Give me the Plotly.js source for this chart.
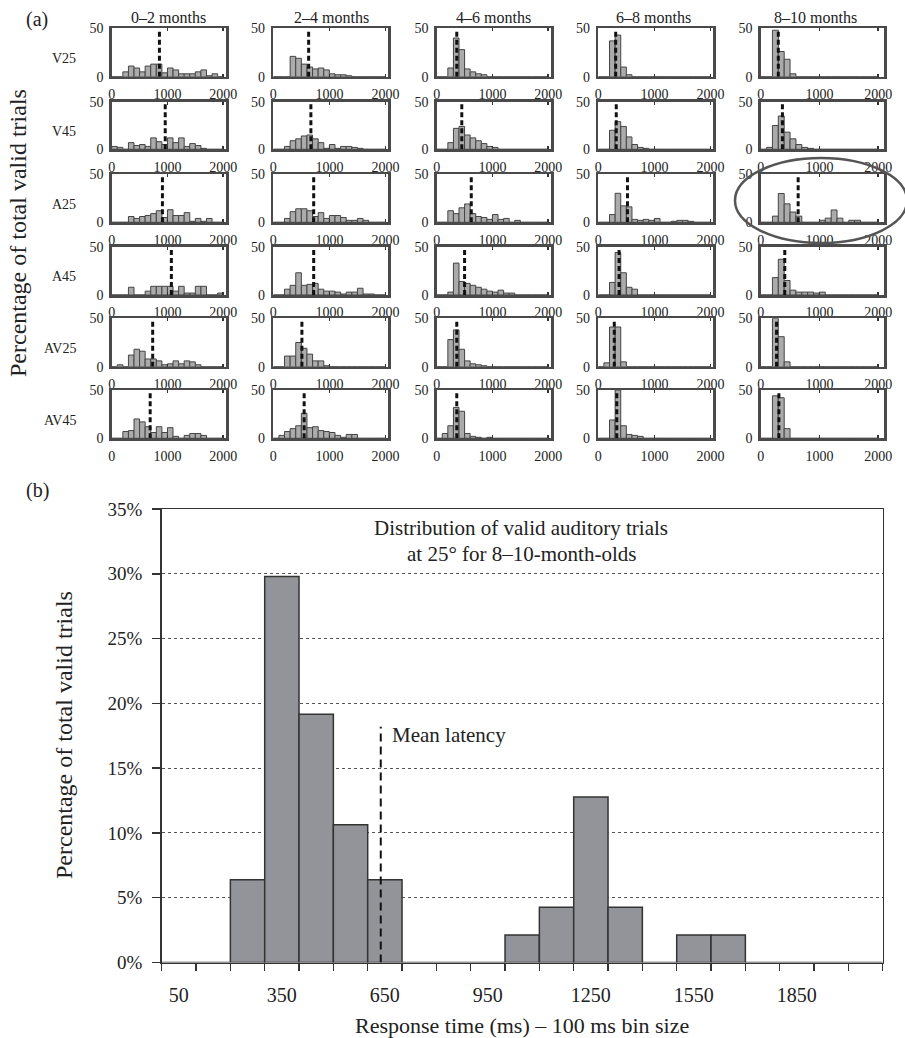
<!DOCTYPE html>
<html><head><meta charset="utf-8">
<script src="https://cdn.plot.ly/plotly-3.0.1.min.js"></script>
<style>html,body{margin:0;padding:0;background:#fff}#chart{width:905px;height:1038px}</style>
</head><body><div id="chart"></div>
<script>
// ---------- DATA ----------
const ageGroups = ['0–2 months','2–4 months','4–6 months','6–8 months','8–10 months'];
const conditions = ['V25','V45','A25','A45','AV25','AV45'];
const smallBinCenters = [50,150,250,350,450,550,650,750,850,950,1050,1150,1250,1350,1450,1550,1650,1750,1850,1950];
const smallTicks = [0,1000,2000];

// percentage of valid trials per 100 ms bin (panel a), one array per age group
const V25_m0_2  = [0,0,5,11,9,5,11,13,13,4,9,7,3,3,3,5,7,1,3,0];
const V25_m2_4  = [0,0,0,21,19,13,10,8,9,7,3,2,2,1,0,0,0,0,0,0];
const V25_m4_6  = [0,0,9,40,28,8,5,3,2,0,0,0,0,0,0,0,0,0,0,0];
const V25_m6_8  = [0,0,37,43,10,2,0,0,0,0,0,0,0,0,0,0,0,0,0,0];
const V25_m8_10 = [0,0,48,26,18,3,0,0,0,0,0,0,0,0,0,0,0,0,0,0];

const V45_m0_2  = [3,2,0,7,4,5,3,12,8,5,12,7,12,3,6,4,1,0,0,0];
const V45_m2_4  = [0,0,3,9,11,14,15,11,7,1,5,1,3,3,2,1,0,0,0,0];
const V45_m4_6  = [0,0,7,22,24,15,12,9,6,3,2,0,0,0,0,0,0,0,0,0];
const V45_m6_8  = [0,0,20,29,24,13,5,2,1,0,0,0,0,0,0,0,0,0,0,0];
const V45_m8_10 = [0,2,25,35,18,11,5,2,1,0,0,0,0,0,0,0,0,0,0,0];

const A25_m0_2  = [0,0,0,6,4,6,7,9,12,5,13,7,7,10,1,4,1,4,0,0];
const A25_m2_4  = [0,0,4,11,14,14,12,6,10,4,7,7,5,2,2,4,2,0,0,0];
const A25_m4_6  = [0,0,12,9,15,19,9,6,5,3,8,3,4,0,2,0,0,0,0,0];
const A25_m6_8  = [0,0,8,30,17,16,3,2,3,2,4,0,0,1,2,2,1,0,0,0];
const A25_m8_10 = [0,0,6.4,29.8,19.1,10.6,6.4,0,0,0,2.1,4.3,12.8,4.3,0,2.1,2.1,0,0,0];

const A45_m0_2  = [0,0,0,8,0,0,4,9,9,9,9,4,9,2,2,9,9,0,0,2];
const A45_m2_4  = [0,0,6,10,23,10,11,12,6,4,4,3,1,3,3,7,1,1,0,0];
const A45_m4_6  = [0,0,3,33,14,12,10,8,6,4,3,5,2,2,0,0,0,0,0,0];
const A45_m6_8  = [0,0,13,44,23,8,6,0,0,0,0,0,0,0,0,0,0,0,0,0];
const A45_m8_10 = [0,0,18,37,15,5,3,3,3,2,3,0,0,0,0,0,0,0,0,0];

const AV25_m0_2  = [0,2,0,12,18,16,8,8,6,2,3,6,3,6,5,2,0,0,0,0];
const AV25_m2_4  = [0,0,11,11,25,19,13,6,6,1,0,0,0,0,0,0,0,0,0,0];
const AV25_m4_6  = [0,0,28,38,18,6,3,2,1,0,0,0,0,0,0,0,0,0,0,0];
const AV25_m6_8  = [0,4,41,41,5,0,0,0,0,0,0,0,0,0,0,0,0,0,0,0];
const AV25_m8_10 = [0,0,50,31,5,0,0,0,0,0,0,0,0,0,0,0,0,0,0,0];

const AV45_m0_2  = [0,0,7,8,20,17,12,6,12,6,11,2,0,3,5,5,3,0,0,0];
const AV45_m2_4  = [0,3,7,10,13,26,11,12,8,7,6,3,1,4,4,0,0,0,0,0];
const AV45_m4_6  = [0,5,13,32,28,5,2,1,0,1,0,0,0,0,0,0,0,0,0,0];
const AV45_m6_8  = [0,0,19,50,13,4,3,2,0,0,0,0,0,0,0,0,0,0,0,0];
const AV45_m8_10 = [0,0,44,42,10,0,0,0,0,0,0,0,0,0,0,0,0,0,0,0];

// mean latency (ms) per age group
const meanV25  = [856, 630, 360, 310, 300];
const meanV45  = [960, 670, 450, 320, 370];
const meanA25  = [910, 720, 620, 520, 638];
const meanA45  = [1070, 720, 500, 370, 410];
const meanAV25 = [735, 510, 360, 285, 270];
const meanAV45 = [690, 550, 360, 330, 310];

// panel (b): auditory 25 deg, 8-10 months
const bBinCenters = [50,150,250,350,450,550,650,750,850,950,1050,1150,1250,1350,1450,1550,1650,1750,1850,1950,2050];
const bPercent    = [0,0,6.38,29.79,19.15,10.64,6.38,0,0,0,2.13,4.26,12.77,4.26,0,2.13,2.13,0,0,0,0];
const bTickLabels = [50,350,650,950,1250,1550,1850];
const bMeanLatency = 638;
const bMeanLineTop = 18.2;

// ---------- TABLES BUILT FROM DATA ----------
const hist = {
  V25: [V25_m0_2,V25_m2_4,V25_m4_6,V25_m6_8,V25_m8_10],
  V45: [V45_m0_2,V45_m2_4,V45_m4_6,V45_m6_8,V45_m8_10],
  A25: [A25_m0_2,A25_m2_4,A25_m4_6,A25_m6_8,A25_m8_10],
  A45: [A45_m0_2,A45_m2_4,A45_m4_6,A45_m6_8,A45_m8_10],
  AV25:[AV25_m0_2,AV25_m2_4,AV25_m4_6,AV25_m6_8,AV25_m8_10],
  AV45:[AV45_m0_2,AV45_m2_4,AV45_m4_6,AV45_m6_8,AV45_m8_10]
};
const means = {V25:meanV25,V45:meanV45,A25:meanA25,A45:meanA45,AV25:meanAV25,AV45:meanAV45};

// ---------- LAYOUT GEOMETRY (pixels) ----------
const W = 905, H = 1038;
const FONT = 'Liberation Serif, Times New Roman, serif';
const colX = [[111.7,226],[273.3,388.3],[436.7,551],[598.3,713.3],[760.7,884]];
const colRange = [2050,2050,2050,2050,2100];
const colTitleX = [168,331,493,653,815];
const rowY = [[28.3,76.7],[101.7,149.3],[174,222.3],[246.7,295],[318.3,366.7],[390,438.3]];
const px = v => v / W;
const py = v => 1 - v / H;

const traces = [];
const layout = {
  width: W, height: H,
  margin: {l:0, r:0, t:0, b:0},
  paper_bgcolor: '#fff', plot_bgcolor: '#fff',
  showlegend: false, bargap: 0,
  font: {family: FONT, color: '#222'},
  annotations: [], shapes: []
};

let k = 0;
conditions.forEach((cond, r) => {
  ageGroups.forEach((age, c) => {
    k++;
    const xa = k === 1 ? 'x' : 'x' + k;
    const ya = k === 1 ? 'y' : 'y' + k;
    traces.push({
      type: 'bar', x: smallBinCenters, y: hist[cond][c], width: 100,
      xaxis: xa, yaxis: ya,
      marker: {color: '#ababab', line: {color: '#444', width: 1}},
      hoverinfo: 'skip'
    });
    const m = means[cond][c];
    traces.push({
      type: 'scatter', mode: 'lines', x: [m, m], y: [0, 48],
      xaxis: xa, yaxis: ya,
      line: {color: '#111', width: 3, dash: '5px,3px'}, hoverinfo: 'skip'
    });
    const xn = k === 1 ? 'xaxis' : 'xaxis' + k;
    const yn = k === 1 ? 'yaxis' : 'yaxis' + k;
    layout[xn] = {
      domain: [px(colX[c][0]), px(colX[c][1])], range: [0, colRange[c]],
      anchor: ya, tickmode: 'array', tickvals: smallTicks,
      ticks: 'inside', ticklen: 3, tickwidth: 1.5, tickcolor: '#333',
      showline: true, mirror: 'ticks', linecolor: '#4a4a4a', linewidth: 2.5,
      showgrid: false, zeroline: false, ticklabelstandoff: 3,
      tickfont: {family: FONT, size: 14, color: '#222'}, fixedrange: true
    };
    layout[yn] = {
      domain: [py(rowY[r][1]), py(rowY[r][0])], range: [0, 50],
      anchor: xa, tickmode: 'array', tickvals: [0, 50], ticks: '',
      showline: true, mirror: true, linecolor: '#4a4a4a', linewidth: 2.5,
      showgrid: false, zeroline: false, ticklabelstandoff: 3,
      tickfont: {family: FONT, size: 14, color: '#222'}, fixedrange: true
    };
  });
});

// column titles
ageGroups.forEach((age, c) => {
  layout.annotations.push({text: age, x: px(colTitleX[c]), y: py(17), xref: 'paper', yref: 'paper',
    showarrow: false, xanchor: 'center', yanchor: 'middle', font: {family: FONT, size: 16, color: '#222'}});
});
// row labels
conditions.forEach((cond, r) => {
  const yc = (rowY[r][0] + rowY[r][1]) / 2 + 6;
  layout.annotations.push({text: cond, x: px(78), y: py(yc), xref: 'paper', yref: 'paper',
    showarrow: false, xanchor: 'right', yanchor: 'middle', font: {family: FONT, size: 14, color: '#222'}});
});

// ---------- PANEL (b) ----------
traces.push({
  type: 'bar', x: bBinCenters, y: bPercent, width: 100, xaxis: 'x31', yaxis: 'y31',
  marker: {color: '#939499', line: {color: '#333', width: 1.5}}, hoverinfo: 'skip'
});
traces.push({
  type: 'scatter', mode: 'lines', x: [bMeanLatency, bMeanLatency], y: [0, bMeanLineTop],
  xaxis: 'x31', yaxis: 'y31', line: {color: '#111', width: 2, dash: '8px,5px'}, hoverinfo: 'skip'
});
layout.xaxis31 = {
  domain: [px(161.7), px(882.7)], range: [0, 2100], anchor: 'y31',
  tickmode: 'array', tickvals: bTickLabels, ticks: '',
  showline: true, mirror: true, linecolor: '#333', linewidth: 1.5,
  showgrid: false, zeroline: false, ticklabelstandoff: 14,
  tickfont: {family: FONT, size: 20, color: '#222'},
  minor: {tickmode: 'linear', tick0: 0, dtick: 100, ticks: 'outside', ticklen: 7, tickwidth: 1.5, tickcolor: '#333', showgrid: false},
  fixedrange: true
};
layout.yaxis31 = {
  domain: [py(962.5), py(509)], range: [0, 35], anchor: 'x31',
  tickmode: 'linear', tick0: 0, dtick: 5, ticksuffix: '%',
  ticks: 'outside', ticklen: 8, tickwidth: 1.5, tickcolor: '#333',
  showline: true, mirror: true, linecolor: '#333', linewidth: 1.5,
  showgrid: true, gridcolor: '#555', griddash: 'dot', gridwidth: 1,
  zeroline: false, ticklabelstandoff: 6,
  tickfont: {family: FONT, size: 19, color: '#222'}, fixedrange: true
};

const ann = (text, x, y, size, extra) => Object.assign({text, x: px(x), y: py(y), xref: 'paper', yref: 'paper',
  showarrow: false, xanchor: 'center', yanchor: 'middle', font: {family: FONT, size, color: '#222'}}, extra || {});
layout.annotations.push(ann('(a)', 37, 20, 20));
layout.annotations.push(ann('(b)', 37, 490, 20));
layout.annotations.push(ann('Percentage of total valid trials', 18, 233, 24, {textangle: -90}));
layout.annotations.push(ann('Percentage of total valid trials', 64, 735, 24, {textangle: -90}));
layout.annotations.push(ann('Response time (ms) – 100 ms bin size', 522, 1025, 22));
layout.annotations.push(ann('Distribution of valid auditory trials', 521, 528, 21));
layout.annotations.push(ann('at 25° for 8–10-month-olds', 521, 554, 21));
layout.annotations.push(ann('Mean latency', 390, 735, 21, {xanchor: 'left'}));

// highlight ellipse around A25 / 8–10 months
layout.shapes.push({type: 'circle', xref: 'paper', yref: 'paper',
  x0: px(735), x1: px(907), y0: py(243), y1: py(158),
  line: {color: '#555', width: 2.5}});

Plotly.newPlot('chart', traces, layout, {staticPlot: true});
</script>
</body></html>
